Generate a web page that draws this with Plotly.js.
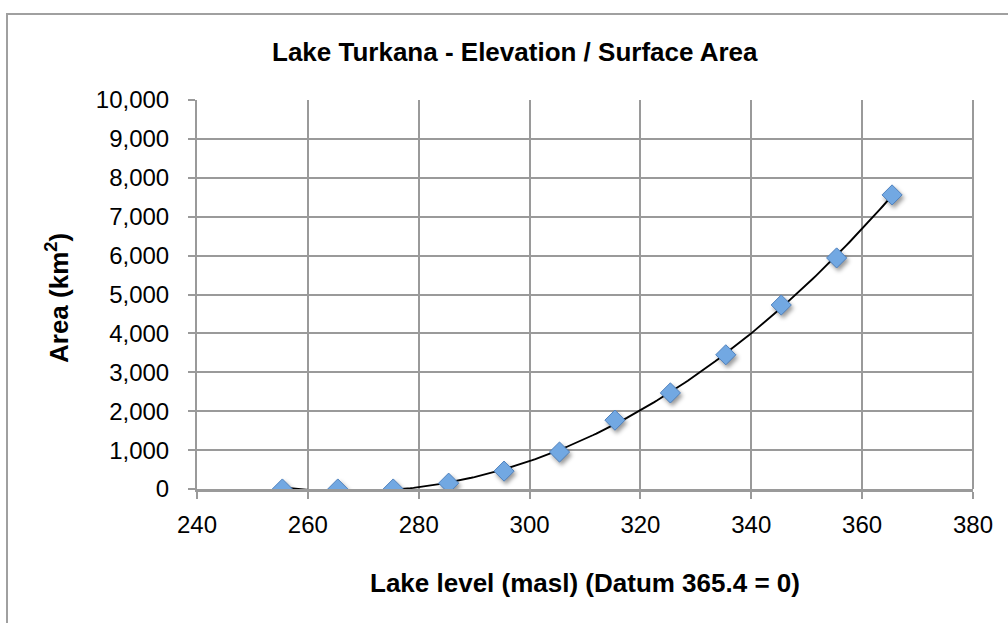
<!DOCTYPE html>
<html>
<head>
<meta charset="utf-8">
<script src="https://cdn.plot.ly/plotly-3.0.1.min.js"></script>
<style>html,body{margin:0;padding:0;background:#fff;}#chart{width:1008px;height:623px;}</style>
</head>
<body>
<div id="chart"></div>
<script>
// Data
const lakeLevel = [255.4, 265.4, 275.4, 285.4, 295.4, 305.4, 315.4, 325.4, 335.4, 345.4, 355.4, 365.4];
const area = [0, 0, 0, 150, 460, 950, 1770, 2470, 3450, 4730, 5940, 7560];
const chartTitle = 'Lake Turkana - Elevation / Surface Area';
const xTitle = 'Lake level (masl) (Datum 365.4 = 0)';
const yTitle = 'Area (km<sup>2</sup>)';

// Polynomial (order 3) trendline fitted by least squares, like the spreadsheet trendline
function polyFit(xs, ys, order) {
  const n = order + 1;
  const x0 = xs.reduce((a, b) => a + b, 0) / xs.length;
  const A = [];
  for (let i = 0; i < n; i++) { A.push(new Array(n + 1).fill(0)); }
  for (let k = 0; k < xs.length; k++) {
    const t = xs[k] - x0;
    for (let i = 0; i < n; i++) {
      for (let j = 0; j < n; j++) A[i][j] += Math.pow(t, i + j);
      A[i][n] += ys[k] * Math.pow(t, i);
    }
  }
  for (let i = 0; i < n; i++) {
    let p = i;
    for (let r = i + 1; r < n; r++) if (Math.abs(A[r][i]) > Math.abs(A[p][i])) p = r;
    [A[i], A[p]] = [A[p], A[i]];
    for (let r = 0; r < n; r++) {
      if (r === i) continue;
      const f = A[r][i] / A[i][i];
      for (let c = i; c <= n; c++) A[r][c] -= f * A[i][c];
    }
  }
  const coef = A.map((row, i) => row[n] / row[i]);
  return x => { const t = x - x0; let s = 0; for (let i = 0; i < n; i++) s += coef[i] * Math.pow(t, i); return s; };
}
const fit = polyFit(lakeLevel, area, 3);
const xMin = lakeLevel[0], xMax = lakeLevel[lakeLevel.length - 1];
const trendX = [], trendY = [];
for (let i = 0; i <= 200; i++) { const x = xMin + (xMax - xMin) * i / 200; trendX.push(x); trendY.push(fit(x)); }

const traces = [
  { x: trendX, y: trendY, mode: 'lines', line: { color: '#000', width: 1.9 }, hoverinfo: 'skip', showlegend: false },
  { x: lakeLevel, y: area, mode: 'markers', showlegend: false,
    marker: { symbol: 'diamond', size: 15.5, color: '#72a8e2', line: { color: '#4f81bd', width: 1 } } }
];

const grid = '#9a9a9a';
const FS = 24;
const TFS = 26;
const layout = {
  width: 1008, height: 623,
  margin: { l: 197, r: 35, t: 100, b: 134 },
  paper_bgcolor: '#fff', plot_bgcolor: '#fff',
  font: { family: 'Liberation Sans, Arial, sans-serif', color: '#000', size: FS },
  showlegend: false,
  xaxis: {
    range: [240, 380], dtick: 20, tick0: 240,
    showgrid: true, gridcolor: grid, gridwidth: 2,
    showline: true, linecolor: grid, linewidth: 2.5, mirror: false,
    ticks: 'outside', ticklen: 7, tickcolor: grid, tickwidth: 2,
    ticklabelstandoff: 6,
    zeroline: false, tickfont: { size: FS }
  },
  yaxis: {
    range: [0, 10000], dtick: 1000, tick0: 0, tickformat: ',d',
    showgrid: true, gridcolor: grid, gridwidth: 2,
    showline: true, linecolor: grid, linewidth: 2,
    ticks: 'outside', ticklen: 7, tickcolor: grid, tickwidth: 2,
    ticklabelstandoff: 14,
    zeroline: false, tickfont: { size: FS }
  },
  annotations: [
    { text: '<b>' + chartTitle + '</b>', xref: 'paper', yref: 'paper', x: (515 - 197) / 776, y: (489 - 52) / 389,
      xanchor: 'center', yanchor: 'middle', showarrow: false, font: { size: TFS } },
    { text: '<b>' + xTitle + '</b>', xref: 'paper', yref: 'paper', x: 0.5, y: (489 - 583) / 389,
      xanchor: 'center', yanchor: 'middle', showarrow: false, font: { size: TFS } },
    { text: '<b>' + yTitle + '</b>', xref: 'paper', yref: 'paper', x: (57 - 197) / 776, y: (489 - 298) / 389,
      xanchor: 'center', yanchor: 'middle', textangle: -90, showarrow: false, font: { size: TFS } }
  ],
  shapes: [
    { type: 'line', xref: 'paper', yref: 'paper', x0: 1, x1: 1, y0: 0, y1: 1, line: { color: grid, width: 2 } },
    { type: 'rect', xref: 'paper', yref: 'paper', x0: (7 - 197) / 776, x1: 1.2, y0: -0.5, y1: (489 - 14) / 389,
      line: { color: '#a0a0a0', width: 2 }, fillcolor: 'rgba(0,0,0,0)', layer: 'below' }
  ]
};
Plotly.newPlot('chart', traces, layout, { displayModeBar: false, staticPlot: true }).then(gd => {
  const tr = gd.querySelectorAll('.scatterlayer .trace');
  if (tr.length > 1) {
    tr[1].querySelectorAll('path.point').forEach(p => {
      p.setAttribute('style', (p.getAttribute('style') || '') + ';filter:drop-shadow(2px 3px 2px rgba(0,0,0,0.4));');
    });
  }
});
</script>
</body>
</html>
